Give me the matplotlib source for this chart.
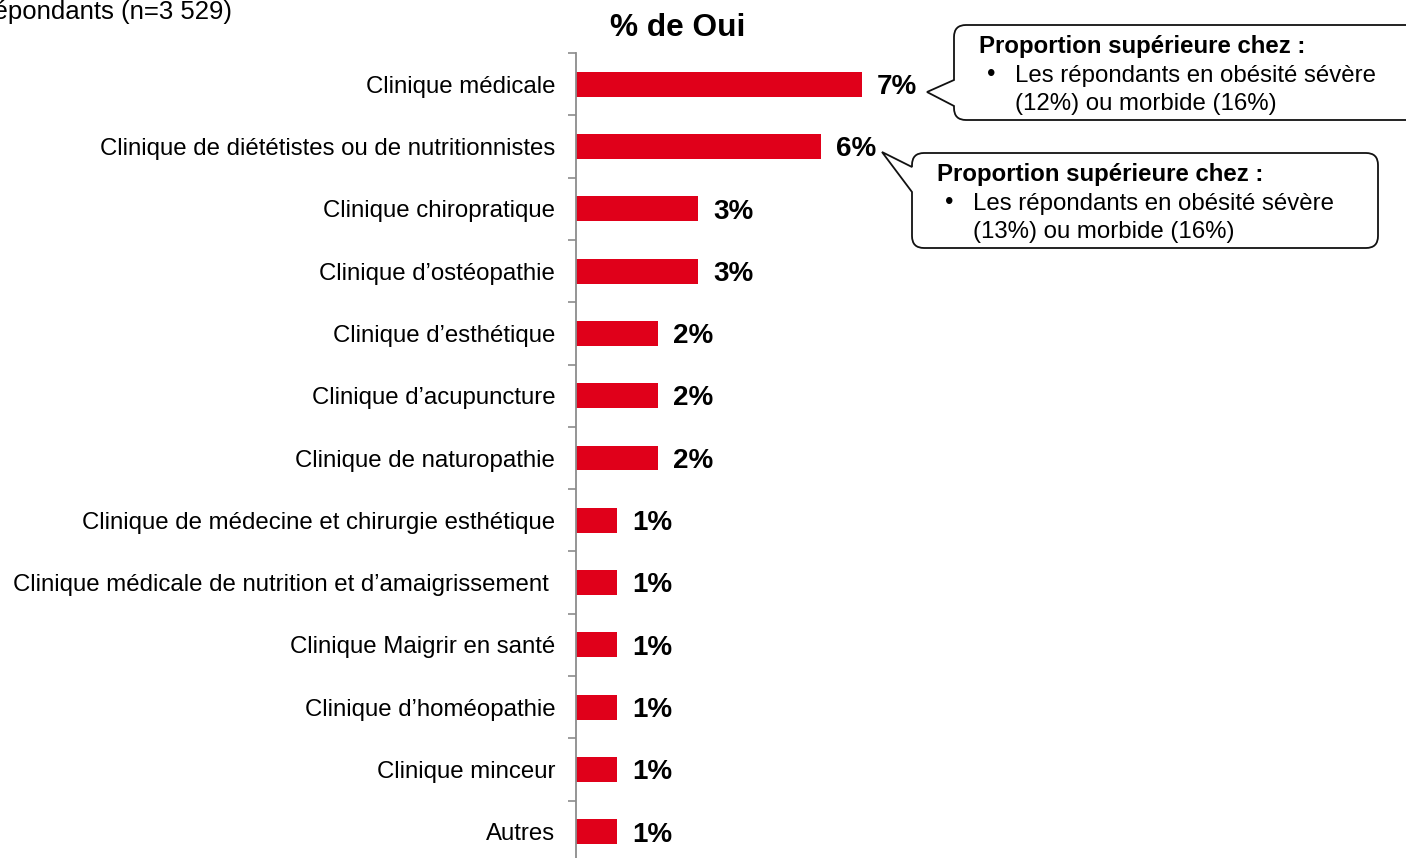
import numpy as np
import matplotlib.pyplot as plt
from matplotlib.path import Path
from matplotlib.patches import PathPatch

plt.rcParams['font.family'] = ['Liberation Sans', 'DejaVu Sans']

W, H = 1406, 858

categories = [
    "Clinique médicale",
    "Clinique de diététistes ou de nutritionnistes",
    "Clinique chiropratique",
    "Clinique d’ostéopathie",
    "Clinique d’esthétique",
    "Clinique d’acupuncture",
    "Clinique de naturopathie",
    "Clinique de médecine et chirurgie esthétique",
    "Clinique médicale de nutrition et d’amaigrissement ",
    "Clinique Maigrir en santé",
    "Clinique d’homéopathie",
    "Clinique minceur",
    "Autres",
]
pct_oui = [7, 6, 3, 3, 2, 2, 2, 1, 1, 1, 1, 1, 1]

base_note = "répondants (n=3 529)"
chart_title = "% de Oui"
callout_head = "Proportion supérieure chez :"
callout_lines = [
    ["Les répondants en obésité sévère", "(12%) ou morbide (16%)"],
    ["Les répondants en obésité sévère", "(13%) ou morbide (16%)"],
]

RED = "#E0001A"
GREY = "#8c8c8c"
FS = 17.3

fig = plt.figure(figsize=(W / 100, H / 100), dpi=100)

# main bar axes, placed in pixel terms
left, right, top, bottom = 576, 1392, 53, 863
ax = fig.add_axes([left / W, (H - bottom) / H, (right - left) / W, (bottom - top) / H])

y = np.arange(len(categories))
ax.barh(y, pct_oui, height=0.4, color=RED)
ax.set_ylim(len(categories) - 0.5, -0.5)
ax.set_xlim(0, 20)

for s in ("top", "right", "bottom"):
    ax.spines[s].set_visible(False)
ax.spines["left"].set_color(GREY)
ax.spines["left"].set_linewidth(1.3)
ax.set_xticks([])

# tick marks sit between categories, labels at the category centres
ax.set_yticks(np.arange(-0.5, len(categories), 1))
ax.set_yticklabels([])
ax.tick_params(axis="y", which="major", length=6, width=1.2, color=GREY)
ax.set_yticks(y, minor=True)
ax.set_yticklabels(categories, minor=True, fontsize=FS)
ax.tick_params(axis="y", which="minor", length=0, pad=15)

for yi, v in zip(y, pct_oui):
    ax.annotate(f"{v}%", xy=(v, yi), xytext=(11, -2), textcoords="offset points",
                ha="left", va="center", fontsize=20, fontweight="bold")

# overlay in pixel coordinates for the title, note and callouts
ov = fig.add_axes([0, 0, 1, 1])
ov.set_xlim(0, W)
ov.set_ylim(H, 0)
ov.axis("off")

ov.text(232, 19, base_note, fontsize=18.5, ha="right", va="baseline")
ov.text(678, 36, chart_title, fontsize=22.8, fontweight="bold", ha="center", va="baseline")


def callout(x0, x1, y0, y1, tip, a1, a2, r=12):
    verts = [
        (x0, a1), (x0, y0 + r), (x0, y0), (x0 + r, y0),
        (x1 - r, y0), (x1, y0), (x1, y0 + r),
        (x1, y1 - r), (x1, y1), (x1 - r, y1),
        (x0 + r, y1), (x0, y1), (x0, y1 - r),
        (x0, a2), tip, (x0, a1),
    ]
    codes = [
        Path.MOVETO, Path.LINETO, Path.CURVE3, Path.CURVE3,
        Path.LINETO, Path.CURVE3, Path.CURVE3,
        Path.LINETO, Path.CURVE3, Path.CURVE3,
        Path.LINETO, Path.CURVE3, Path.CURVE3,
        Path.LINETO, Path.LINETO, Path.CLOSEPOLY,
    ]
    ov.add_patch(PathPatch(Path(verts, codes), facecolor="white",
                           edgecolor="#111111", lw=1.3, joinstyle="miter"))


boxes = [
    dict(x0=954, x1=1420, y0=25, y1=120, tip=(927, 92), a1=80, a2=106),
    dict(x0=912, x1=1378, y0=153, y1=248, tip=(882, 152), a1=167, a2=192),
]
for b, lines in zip(boxes, callout_lines):
    callout(b["x0"], b["x1"], b["y0"], b["y1"], b["tip"], b["a1"], b["a2"])
    tx = b["x0"] + 25
    ov.text(tx, b["y0"] + 22, callout_head, fontsize=FS, fontweight="bold",
            ha="left", va="center")
    ov.text(tx + 8, b["y0"] + 50, "•", fontsize=FS, ha="left", va="center")
    ov.text(tx + 36, b["y0"] + 51, lines[0], fontsize=FS, ha="left", va="center")
    ov.text(tx + 36, b["y0"] + 79, lines[1], fontsize=FS, ha="left", va="center")

fig.savefig("out.png", dpi=100)
